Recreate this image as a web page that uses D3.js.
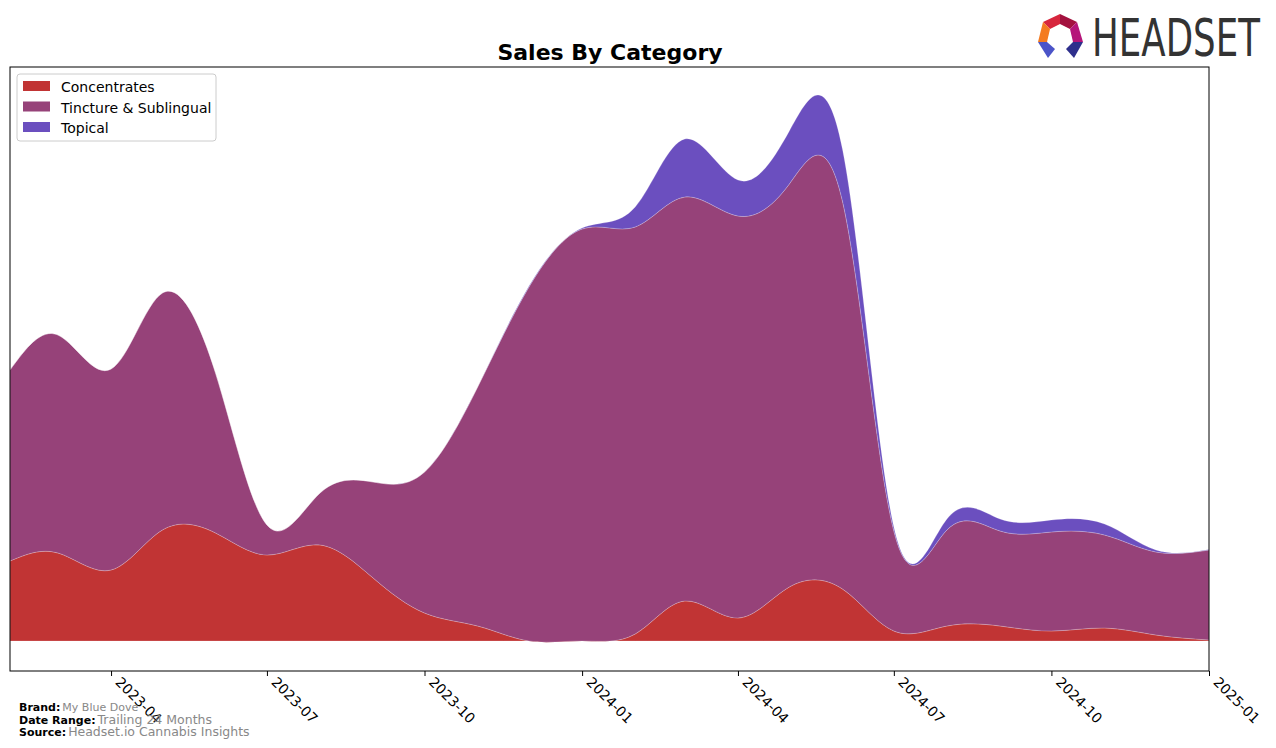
<!DOCTYPE html>
<html>
<head>
<meta charset="utf-8">
<script src="https://cdn.jsdelivr.net/npm/d3@7"></script>
<style>
  body { margin: 0; background: #fff; }
  text { font-family: "DejaVu Sans", sans-serif; }
</style>
</head>
<body>
<div id="chart"></div>
<script>
var months = ["2023-02","2023-03","2023-04","2023-05","2023-06","2023-07","2023-08","2023-09",
  "2023-10","2023-11","2023-12","2024-01","2024-02","2024-03","2024-04","2024-05","2024-06",
  "2024-07","2024-08","2024-09","2024-10","2024-11","2024-12","2025-01"];
var concentrates = [80, 88, 71, 111, 108, 86, 96, 63, 28, 15, 0, 0, 7, 40, 23, 54, 52, 10, 15, 15, 10, 13, 6, 1];
var tincture = [191, 218, 201, 237, 160, 30, 52, 96, 141, 239, 354, 412, 407, 404, 402, 403, 388, 100, 96, 95, 99, 93, 83, 90];
var topical = [0, 0, 0, 0, 0, 0, 0, 0, 0, 0, 1, 1, 20, 58, 36, 53, 52, 4, 11, 12, 12, 11, 2, 0.5];
var categories = ["Concentrates", "Tincture & Sublingual", "Topical"];
var colors = ["#c13434", "#964279", "#6b4fbf"];
var tickMonths = ["2023-04","2023-07","2023-10","2024-01","2024-04","2024-07","2024-10","2025-01"];

var chart = {width: 1276, height: 748};
var plot = {left: 10, right: 1209, top: 67, bottom: 671};
var parse = d3.timeParse("%Y-%m");

var rows = months.map(function(m, i) {
  return {date: parse(m), "Concentrates": concentrates[i], "Tincture & Sublingual": tincture[i], "Topical": topical[i]};
});

var svg = d3.select("#chart").append("svg")
  .attr("width", chart.width)
  .attr("height", chart.height);

var x = d3.scaleTime()
  .domain([parse(months[0]), parse(months[months.length - 1])])
  .range([plot.left, plot.right]);

var y = d3.scaleLinear()
  .domain([-30, 574])
  .range([plot.bottom, plot.top]);

var stack = d3.stack().keys(categories);
var layers = stack(rows);

svg.append("clipPath").attr("id", "clip")
  .append("rect")
  .attr("x", plot.left).attr("y", plot.top)
  .attr("width", plot.right - plot.left).attr("height", plot.bottom - plot.top);

var area = d3.area()
  .x(function(d) { return x(d.data.date); })
  .y0(function(d) { return y(d[0]); })
  .y1(function(d) { return y(d[1]); })
  .curve(d3.curveNatural);

svg.append("g").attr("clip-path", "url(#clip)")
  .selectAll("path")
  .data(layers)
  .enter()
  .append("path")
  .attr("d", area)
  .attr("fill", function(d, i) { return colors[i]; })
  .attr("stroke", "#ffffff")
  .attr("stroke-opacity", 0.35)
  .attr("stroke-width", 0.6);

// frame
svg.append("rect")
  .attr("x", plot.left).attr("y", plot.top)
  .attr("width", plot.right - plot.left).attr("height", plot.bottom - plot.top)
  .attr("fill", "none").attr("stroke", "#000").attr("stroke-width", 1);

// x axis
var xAxis = svg.append("g")
  .attr("transform", "translate(0," + plot.bottom + ")")
  .call(d3.axisBottom(x)
    .tickValues(tickMonths.map(parse))
    .tickFormat(d3.timeFormat("%Y-%m"))
    .tickSize(5)
    .tickSizeOuter(0));
xAxis.select(".domain").remove();
xAxis.selectAll("line").attr("stroke", "#000");
xAxis.selectAll("text")
  .attr("font-size", 14)
  .attr("fill", "#000")
  .attr("text-anchor", "start")
  .attr("dy", null)
  .attr("y", 0)
  .attr("transform", "translate(3,12) rotate(45)");

// title
svg.append("text")
  .attr("x", 610).attr("y", 60)
  .attr("text-anchor", "middle")
  .attr("font-size", 22)
  .attr("font-weight", "bold")
  .text("Sales By Category");

// legend
var legend = svg.append("g").attr("transform", "translate(17,74)");
legend.append("rect")
  .attr("width", 199).attr("height", 67)
  .attr("rx", 3)
  .attr("fill", "#fff").attr("stroke", "#cccccc");
categories.forEach(function(c, i) {
  legend.append("rect")
    .attr("x", 6).attr("y", 7 + i * 20.5)
    .attr("width", 27).attr("height", 10)
    .attr("fill", colors[i]);
  legend.append("text")
    .attr("x", 44).attr("y", 18 + i * 20.5)
    .attr("font-size", 14)
    .text(c);
});

// footer
var footer = [["Brand:", "My Blue Dove", 11], ["Date Range:", "Trailing 24 Months", 12.5], ["Source:", "Headset.io Cannabis Insights", 12.5]];
footer.forEach(function(f, i) {
  var t = svg.append("text")
    .attr("x", 19).attr("y", 711 + i * 12.5)
    .attr("font-size", 11);
  t.append("tspan").attr("font-weight", "bold").attr("fill", "#000").text(f[0]);
  t.append("tspan").attr("fill", "#888").attr("font-size", f[2]).attr("dx", 2).text(f[1]);
});

// logo
var logo = svg.append("g");
var pieces = [
  {fill: "#d7263d", pts: [[1043,22],[1060,14],[1060,24],[1050,29]]},
  {fill: "#a3123f", pts: [[1060,14],[1077,22],[1070,29],[1060,24]]},
  {fill: "#b5167a", pts: [[1077,22],[1083,42],[1073,42],[1070,29]]},
  {fill: "#f47b20", pts: [[1043,22],[1050,29],[1047,42],[1038,42]]},
  {fill: "#4b54c8", pts: [[1038,42],[1047,42],[1055,49],[1048,58]]},
  {fill: "#2e2f8c", pts: [[1073,42],[1083,42],[1074,58],[1066,49]]}
];
pieces.forEach(function(p) {
  logo.append("polygon")
    .attr("points", p.pts.map(function(q) { return q.join(","); }).join(" "))
    .attr("fill", p.fill);
});
var brand = logo.append("text")
  .attr("font-size", 40)
  .attr("font-family", "'DejaVu Sans Condensed', 'DejaVu Sans', sans-serif")
  .attr("fill", "#333")
  .text("HEADSET");
var brandLen = brand.node().getComputedTextLength();
brand.attr("transform", "translate(1092,56) scale(" + (168 / brandLen) + ",1.3)");
</script>
</body>
</html>
